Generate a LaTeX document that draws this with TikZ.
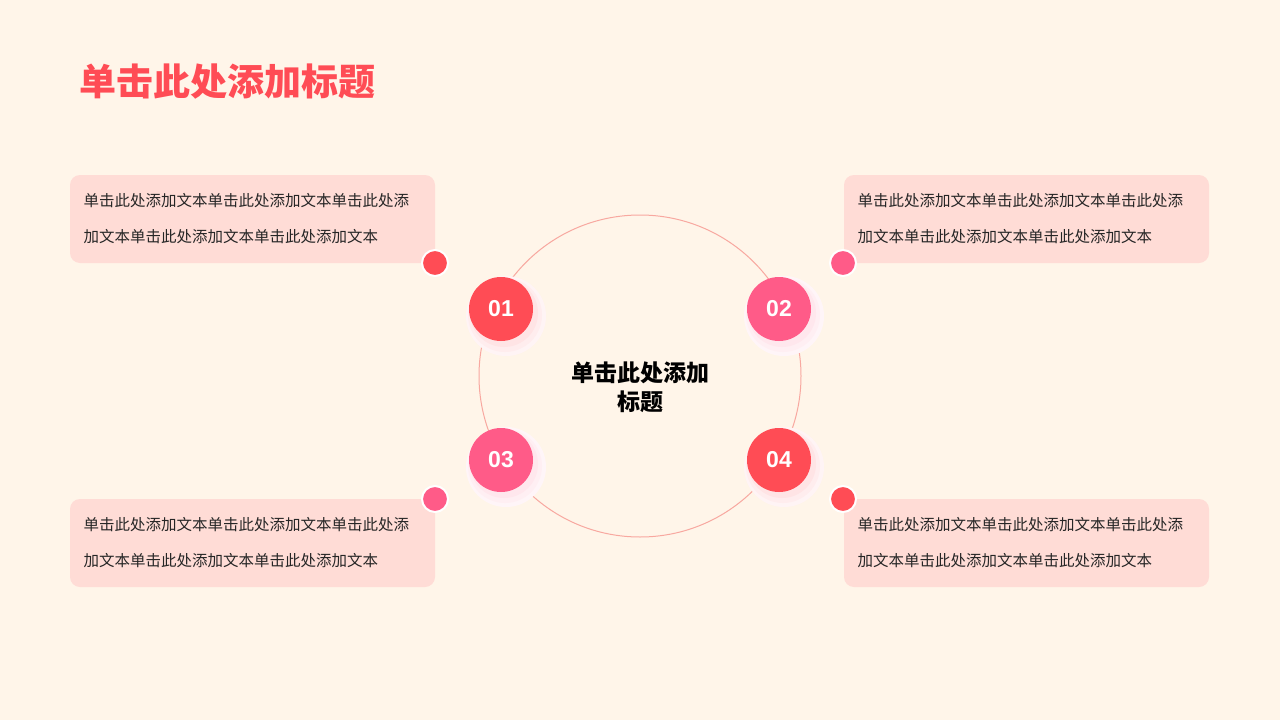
\documentclass[tikz,border=0pt]{standalone}
\usepackage{fontspec}
\setmainfont{Noto Sans CJK SC}
\newfontfamily\numfont{Liberation Sans}
\begin{document}
\begin{tikzpicture}[x=1pt,y=-1pt]
\definecolor{bg}{HTML}{FFF5E9}
\definecolor{boxc}{HTML}{FFDCD6}
\definecolor{redc}{HTML}{FF4C55}
\definecolor{pinkc}{HTML}{FF5B88}
\definecolor{ringc}{HTML}{F8A8A0}
\tikzset{
 txtbox/.style={fill=boxc,rounded corners=10pt,minimum width=365pt,minimum height=88pt,inner sep=0pt},
 body/.style={font=\fontsize{15.5}{36}\selectfont,align=left,text=black!85,anchor=west},
 numc/.style={circle,minimum size=64pt,inner sep=0pt,text=white,font=\numfont\bfseries\fontsize{23}{23}\selectfont},
 dotc/.style={circle,minimum size=26pt,inner sep=0pt,draw=white,line width=2pt},
}
\fill[bg] (0,0) rectangle (1280,720);
\useasboundingbox (0,0) rectangle (1280,720);
\node[anchor=west,text=redc,font=\bfseries\fontsize{37}{37}\selectfont,inner sep=0pt] (title) at (79,82) {单击此处添加标题};
\node[circle,draw=ringc,line width=1pt,minimum size=322pt] (ring) at (640,376) {};
\node[font=\bfseries\fontsize{23}{29}\selectfont,align=center] (ct) at (640,387) {单击此处添加\\标题};
\foreach \n/\x/\y in {a/252.5/219,b/1026.5/219,c/252.5/543,d/1026.5/543}{
 \node[txtbox] (box\n) at (\x,\y) {};
 \node[body,inner sep=0pt] at (\x-169,\y) {单击此处添加文本单击此处添加文本单击此处添\\加文本单击此处添加文本单击此处添加文本};
}
\node[dotc,fill=redc] (da) at (435,263) {};
\node[dotc,fill=pinkc] (db) at (843,263) {};
\node[dotc,fill=pinkc] (dc) at (435,499) {};
\node[dotc,fill=redc] (dd) at (843,499) {};
\foreach \n/\x/\y/\c/\t in {1/501/309/redc/01,2/779/309/pinkc/02,3/501/460/pinkc/03,4/779/460/redc/04}{
 \fill[\c!6] (\x+5,\y+7) circle (40pt);
 \fill[\c!10] (\x+4,\y+6) circle (37pt);
 \fill[\c!15] (\x+3,\y+4) circle (34pt);
 \node[numc,fill=\c] (n\n) at (\x,\y) {\t};
}
\end{tikzpicture}
\end{document}
